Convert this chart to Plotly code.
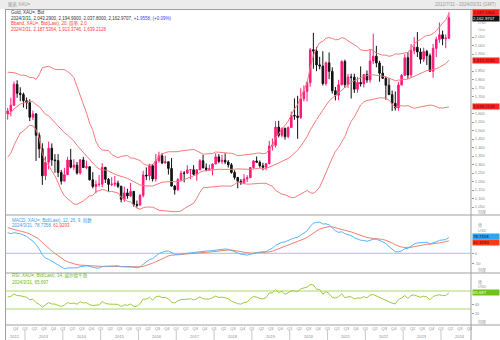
import plotly.graph_objects as go
import pandas as pd

# ---------------- data ----------------
months = [f"{y}-{m:02d}" for y in range(2012, 2025) for m in range(1, 13)]
months = months[months.index("2012-07"):months.index("2024-03") + 1]

opens = [1598, 1615, 1648, 1772, 1719, 1712,
         1675, 1663, 1578, 1597, 1472, 1393, 1234, 1313, 1396, 1327, 1323, 1253,
         1202, 1240, 1326, 1284, 1296, 1250, 1327, 1282, 1287, 1210, 1171, 1183,
         1184, 1283, 1213, 1183, 1184, 1190, 1172, 1095, 1133, 1115, 1142, 1065,
         1061, 1118, 1238, 1233, 1293, 1215, 1322, 1351, 1309, 1316, 1277, 1173,
         1151, 1211, 1249, 1249, 1268, 1269, 1242, 1269, 1322, 1280, 1271, 1275,
         1303, 1345, 1318, 1325, 1315, 1298, 1253, 1224, 1201, 1192, 1215, 1222,
         1282, 1321, 1313, 1292, 1284, 1305, 1409, 1413, 1520, 1472, 1513, 1464,
         1517, 1589, 1585, 1577, 1687, 1730, 1781, 1975, 1968, 1886, 1879, 1776,
         1898, 1848, 1734, 1708, 1769, 1906, 1770, 1814, 1814, 1743, 1783, 1774,
         1829, 1797, 1909, 1937, 1897, 1837, 1807, 1766, 1711, 1660, 1633, 1768,
         1824, 1928, 1827, 1969, 1990, 1962, 1919, 1965, 1940, 1849, 1983, 2036,
         2063, 2040, 2043.29]
highs = [1633, 1693, 1788, 1796, 1754, 1723,
         1694, 1684, 1617, 1603, 1488, 1425, 1348, 1434, 1424, 1361, 1361, 1268,
         1280, 1345, 1392, 1331, 1315, 1332, 1345, 1322, 1290, 1255, 1206, 1238,
         1308, 1286, 1220, 1225, 1232, 1205, 1175, 1170, 1157, 1191, 1142, 1088,
         1127, 1263, 1283, 1304, 1303, 1362, 1375, 1367, 1352, 1317, 1338, 1180,
         1220, 1264, 1262, 1296, 1270, 1296, 1270, 1331, 1357, 1306, 1299, 1307,
         1366, 1361, 1356, 1366, 1326, 1309, 1266, 1226, 1214, 1243, 1237, 1285,
         1326, 1347, 1324, 1310, 1306, 1439, 1453, 1555, 1557, 1517, 1516, 1524,
         1611, 1689, 1704, 1748, 1765, 1789, 1984, 2075, 1992, 1933, 1966, 1906,
         1959, 1872, 1756, 1798, 1913, 1917, 1833, 1834, 1834, 1814, 1877, 1831,
         1853, 1974, 2070, 1998, 1910, 1880, 1814, 1808, 1735, 1730, 1786, 1833,
         1949, 1960, 2009, 2049, 2079, 1984, 1987, 1974, 1953, 2009, 2052, 2135,
         2088, 2065, 2194.99]
lows = [1564, 1583, 1647, 1692, 1672, 1635,
        1626, 1555, 1562, 1321, 1338, 1180, 1208, 1271, 1292, 1251, 1226, 1182,
        1200, 1238, 1277, 1268, 1240, 1240, 1280, 1273, 1206, 1160, 1131, 1170,
        1167, 1191, 1142, 1172, 1170, 1162, 1077, 1080, 1098, 1110, 1052, 1046,
        1060, 1107, 1208, 1207, 1200, 1199, 1310, 1302, 1305, 1241, 1171, 1123,
        1146, 1200, 1195, 1244, 1214, 1236, 1205, 1266, 1278, 1260, 1264, 1236,
        1302, 1307, 1303, 1302, 1282, 1246, 1211, 1160, 1180, 1183, 1196, 1221,
        1276, 1310, 1281, 1266, 1266, 1301, 1382, 1400, 1459, 1459, 1446, 1455,
        1515, 1563, 1451, 1568, 1671, 1671, 1757, 1863, 1849, 1860, 1765, 1764,
        1802, 1717, 1677, 1678, 1766, 1750, 1751, 1688, 1721, 1722, 1758, 1753,
        1780, 1781, 1890, 1872, 1787, 1805, 1681, 1709, 1615, 1618, 1617, 1765,
        1823, 1804, 1810, 1949, 1932, 1893, 1903, 1885, 1846, 1810, 1932, 2016,
        2002, 1984, 2037.80]
closes = [1615, 1648, 1772, 1719, 1712, 1675,
          1663, 1578, 1597, 1472, 1393, 1234, 1313, 1396, 1327, 1323, 1253, 1202,
          1240, 1326, 1284, 1296, 1250, 1327, 1282, 1287, 1210, 1171, 1183, 1184,
          1283, 1213, 1183, 1184, 1190, 1172, 1095, 1133, 1115, 1142, 1065, 1061,
          1118, 1238, 1233, 1293, 1215, 1322, 1351, 1309, 1316, 1277, 1173, 1151,
          1211, 1249, 1248, 1268, 1269, 1242, 1269, 1322, 1280, 1271, 1275, 1303,
          1345, 1318, 1325, 1315, 1298, 1253, 1224, 1201, 1192, 1215, 1222, 1282,
          1321, 1313, 1292, 1284, 1305, 1409, 1413, 1520, 1472, 1513, 1464, 1517,
          1589, 1585, 1577, 1687, 1730, 1781, 1975, 1968, 1886, 1879, 1776, 1898,
          1848, 1734, 1708, 1769, 1906, 1770, 1814, 1813, 1743, 1783, 1774, 1829,
          1797, 1909, 1937, 1897, 1837, 1807, 1766, 1711, 1660, 1633, 1768, 1824,
          1928, 1827, 1969, 1990, 1962, 1919, 1965, 1940, 1849, 1983, 2036, 2063,
          2040, 2044, 2162.9707]
# monthly closes before the visible window (indicator warm-up, 2009-01 .. 2012-06)
warmup_closes = [928, 942, 917, 891, 979, 927, 955, 955, 1001, 1040, 1182, 1097,
                 1081, 1116, 1113, 1179, 1213, 1244, 1181, 1248, 1307, 1357, 1386, 1421,
                 1333, 1409, 1439, 1556, 1536, 1501, 1628, 1826, 1620, 1723, 1746, 1565,
                 1738, 1710, 1669, 1664, 1559, 1604]

last_change = 1.9558
last_change_pct = 0.09
bb_last = [2187.5364, 1913.3746, 1639.2128]
macd_last = 78.7358
signal_last = 61.9293
rsi_last = 65.697

main_ticks = [1050, 1100, 1150, 1200, 1250, 1300, 1350, 1400, 1450, 1500, 1550,
              1600, 1700, 1750, 1800, 1850, 1950, 2000, 2050]
macd_ticks = [0, -50]
rsi_ticks = [40, 20]
rsi_levels = [70, 30]

# ---------------- indicators ----------------
s = pd.Series(warmup_closes + closes, dtype=float)
n0 = len(warmup_closes)
mid = s.rolling(20).mean()
sd = s.rolling(20).std(ddof=0)
upper = (mid + 2 * sd).iloc[n0:].tolist()
lower = (mid - 2 * sd).iloc[n0:].tolist()
mid = mid.iloc[n0:].tolist()
macd_full = s.ewm(span=12, adjust=False).mean() - s.ewm(span=26, adjust=False).mean()
sig_full = macd_full.ewm(span=9, adjust=False).mean()
macd = macd_full.iloc[n0:].tolist()
signal = sig_full.iloc[n0:].tolist()
d = s.diff()
ag = d.clip(lower=0).ewm(alpha=1 / 14, adjust=False).mean()
al = (-d.clip(upper=0)).ewm(alpha=1 / 14, adjust=False).mean()
rsi = (100 - 100 / (1 + ag / al)).iloc[n0:].tolist()

xs = list(range(len(months)))

# ---------------- geometry helpers (pixels -> paper) ----------------
L, R, T, B = 5, 29, 10, 15
W, H = 500, 340
PW, PH = W - L - R, H - T - B


def px(xp):
    return (xp - L) / PW


def py(yp):
    return (H - B - yp) / PH


BB_C = "#F47B7B"
UP_C = "#FF1A7A"
DN_C = "#111111"
MACD_C = "#55B6F5"
SIG_C = "#F4806E"
RSI_C = "#9CCC3C"
FONT = "Liberation Sans, Noto Sans CJK SC, sans-serif"

fig = go.Figure()
for yv in (upper, mid, lower):
    fig.add_trace(go.Scatter(x=xs, y=yv, mode="lines", line=dict(color=BB_C, width=1),
                             xaxis="x", yaxis="y", hoverinfo="skip"))
fig.add_trace(go.Candlestick(
    x=xs, open=opens, high=highs, low=lows, close=closes,
    increasing=dict(line=dict(color=UP_C, width=1), fillcolor=UP_C),
    decreasing=dict(line=dict(color=DN_C, width=1), fillcolor=DN_C),
    whiskerwidth=0, xaxis="x", yaxis="y", hoverinfo="skip"))

fig.add_trace(go.Scatter(x=[-0.85, 147.02], y=[0, 0], mode="lines",
                         line=dict(color="#8CCBF5", width=1), xaxis="x", yaxis="y2", hoverinfo="skip"))
fig.add_trace(go.Scatter(x=xs, y=signal, mode="lines", line=dict(color=SIG_C, width=1),
                         xaxis="x", yaxis="y2", hoverinfo="skip"))
fig.add_trace(go.Scatter(x=xs, y=macd, mode="lines", line=dict(color=MACD_C, width=1),
                         xaxis="x", yaxis="y2", hoverinfo="skip"))

for lv in rsi_levels:
    fig.add_trace(go.Scatter(x=[-0.85, 147.02], y=[lv, lv], mode="lines",
                             line=dict(color="#A8D86A", width=1), xaxis="x", yaxis="y3", hoverinfo="skip"))
fig.add_trace(go.Scatter(x=xs, y=rsi, mode="lines", line=dict(color=RSI_C, width=1),
                         xaxis="x", yaxis="y3", hoverinfo="skip"))

# quarter tick labels (centred on quarter starts) and year labels
qvals, qtext = [], []
for y in range(2012, 2025):
    for qi, m in enumerate((1, 4, 7, 10)):
        idx = (y - 2012) * 12 + (m - 7) - 0.5
        if 2 <= idx <= 147.02:
            qvals.append(idx)
            qtext.append(f"Q{qi + 1}")

tickfont = dict(size=4, color="#8a8a8a", family=FONT)
axis_common = dict(side="right", anchor="x", showgrid=False, zeroline=False, ticks="outside",
                   ticklen=2, tickcolor="#9a9a9a", tickfont=tickfont, showline=False)
fig.update_layout(
    width=W, height=H, margin=dict(l=L, r=R, t=T, b=B),
    paper_bgcolor="white", plot_bgcolor="white", showlegend=False,
    font=dict(family=FONT),
    xaxis=dict(range=[-0.85, 147.02], anchor="y3", showgrid=False, zeroline=False,
               tickvals=qvals, ticktext=qtext, ticks="", tickfont=tickfont,
               rangeslider=dict(visible=False), showline=False),
    yaxis=dict(domain=[py(215), 1], range=[1050 - 8 / 0.17, 2050 + 27 / 0.17],
               tickvals=main_ticks, ticktext=[f"{v:,}" for v in main_ticks], **axis_common),
    yaxis2=dict(domain=[py(273), py(215)], range=[-(273 - 253.3) / 0.2, (253.3 - 215) / 0.2],
                tickvals=macd_ticks, ticktext=[str(v) for v in macd_ticks], **axis_common),
    yaxis3=dict(domain=[0, py(273)], range=[-(325 - 322.5) / 0.45, (322.5 - 273) / 0.45],
                tickvals=rsi_ticks, ticktext=[str(v) for v in rsi_ticks], **axis_common),
)

shapes = []
# title bar
shapes.append(dict(type="rect", xref="paper", yref="paper", x0=px(0), x1=px(W), y0=py(9), y1=py(0),
                   fillcolor="#ECECEC", line=dict(width=0), layer="below"))
# frame lines
grey = dict(color="#A0A0A0", width=1)
for yp in (9.5, 215, 273, 325):
    shapes.append(dict(type="line", xref="paper", yref="paper", x0=px(5), x1=px(W), y0=py(yp), y1=py(yp), line=grey))
shapes.append(dict(type="line", xref="paper", yref="paper", x0=px(5.5), x1=px(5.5), y0=py(H), y1=py(9.5), line=grey))
shapes.append(dict(type="line", xref="paper", yref="paper", x0=1, x1=1, y0=py(H), y1=py(9.5), line=grey))
# year separators in label row
for k in range(12):
    xi = 5.5 + 12 * k
    shapes.append(dict(type="line", xref="x", yref="paper", x0=xi, x1=xi, y0=py(340), y1=py(330),
                       line=dict(color="#C8C8C8", width=1)))
fig.update_layout(shapes=shapes)

ann = []


def text(xp, yp, t, color="#333333", size=4.5, xanchor="left"):
    ann.append(dict(xref="paper", yref="paper", x=px(xp), y=py(yp), text=t, showarrow=False,
                    xanchor=xanchor, yanchor="middle", font=dict(size=size, color=color, family=FONT)))


# year labels
for y in range(2012, 2025):
    if y == 2012:
        cx = (-0.85 + 5.5) / 2
    else:
        cx = 5.5 + (y - 2013) * 12 + 6
    ann.append(dict(xref="x", yref="paper", x=cx, y=py(336), text=str(y), showarrow=False,
                    xanchor="center", yanchor="middle", font=dict(size=4, color="#8a8a8a", family=FONT)))

# title bar texts
text(6, 4.5, "图表 XAU=", "#9a9a9a", 4.5)
text(498, 4.5, f"{months[0].replace('-0', '/')}/31 - 2024/03/31 (GMT)", "#9a9a9a", 4.5, "right")

# headers
date_s = "2024/3/31"
fmt = lambda v: f"{v:,.4f}"
text(9, 12.7, "Gold, XAU=, Bid", "#333333")
text(9, 18.3, f"{date_s}, {fmt(opens[-1])}, {fmt(highs[-1])}, {fmt(lows[-1])}, {fmt(closes[-1])}, "
     f"<span style='color:#3b3bff'>+{last_change:.4f}, (+{last_change_pct:.2f}%)</span>", "#333333")
text(9, 24, "Bband, XAU=, Bid(Last), 20, 简单, 2.0", "#FF3B3B")
text(9, 29.3, f"{date_s}, " + ", ".join(fmt(v) for v in bb_last), "#FF3B3B")
text(10, 220, "MACD, XAU=, Bid(Last), 12, 26, 9, 指数", "#3A9CEB")
text(10, 225.5, f"{date_s}, {macd_last:.4f}, <span style='color:#FF4B3B'>{signal_last:.4f}</span>", "#3A9CEB")
text(10, 275.7, "RSI, XAU=, Bid(Last), 14, 威尔德平滑", "#66B81E")
text(10, 282, f"{date_s}, {rsi_last:.3f}", "#66B81E")

# axis side small labels
for yp, t in ((23, "USD"), (29, "Ozs"), (212.5, "刻度"), (225, "值"), (230.5, "USD"), (270, "刻度"),
              (281.5, "值"), (286.5, "USD"), (322, "刻度")):
    text(476, yp, t, "#9a9a9a", 4)


def box(yref, yv, t, bg, fc, shift=0):
    ann.append(dict(xref="paper", yref=yref, x=px(472), y=yv, text=t, showarrow=False,
                    xanchor="left", yanchor="middle", align="left", width=26, bgcolor=bg,
                    borderpad=0, yshift=shift, font=dict(size=4.3, color=fc, family=FONT)))


box("y", bb_last[0], fmt(bb_last[0]), "#FF2020", "#222222", 1)
box("y", closes[-1], fmt(closes[-1]), "#111111", "#FFFFFF", -0.5)
box("y", bb_last[1], fmt(bb_last[1]), "#FF2020", "#222222")
box("y", bb_last[2], fmt(bb_last[2]), "#FF2020", "#222222")
box("y2", macd_last, f"{macd_last:.4f}", "#2AA4F4", "#111111", 1.5)
box("y2", signal_last, f"{signal_last:.4f}", "#FF3A12", "#111111", -1.5)
box("y3", rsi_last, f"{rsi_last:.3f}", "#6CC414", "#FFFFFF")

fig.update_layout(annotations=ann)
fig.write_html("out.html")
